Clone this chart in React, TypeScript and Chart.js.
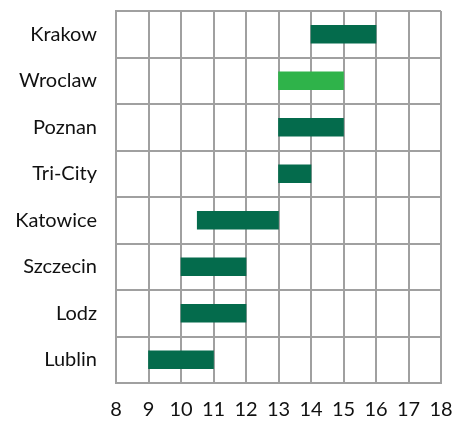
import React, { useEffect, useRef } from "react";
import { Chart, registerables } from "chart.js";

Chart.register(...registerables);

const cities = ["Krakow", "Wroclaw", "Poznan", "Tri-City", "Katowice", "Szczecin", "Lodz", "Lublin"];
const startHours = [14, 13, 13, 13, 10.5, 10, 10, 9];
const endHours = [16, 15, 15, 14, 13, 12, 12, 11];
const barColors = ["#046b4c", "#2fb34a", "#046b4c", "#046b4c", "#046b4c", "#046b4c", "#046b4c", "#046b4c"];
const xMin = 8;
const xMax = 18;

export default function App() {
  const ref = useRef<HTMLCanvasElement | null>(null);
  useEffect(() => {
    if (!ref.current) return;
    const font = { family: "Lato, 'Open Sans', sans-serif", size: 20 };
    const grid = "#a0a0a0";
    const chart = new Chart(ref.current, {
      type: "bar",
      data: {
        labels: cities,
        datasets: [
          {
            data: cities.map((_, i) => [startHours[i], endHours[i]]) as any,
            backgroundColor: barColors,
            borderWidth: 0,
            barThickness: 18,
          },
        ],
      },
      options: {
        indexAxis: "y",
        animation: false,
        responsive: false,
        maintainAspectRatio: false,
        layout: { padding: { top: 11, right: 13, left: 0, bottom: 0 } },
        plugins: { legend: { display: false }, tooltip: { enabled: false } },
        scales: {
          x: {
            min: xMin,
            max: xMax,
            ticks: { stepSize: 1, color: "#111", font, padding: 15 },
            grid: { color: grid, lineWidth: 2, drawTicks: false },
            border: { color: grid, width: 2 },
            afterFit: (s: any) => {
              s.height = 38;
              s.paddingLeft = 0;
              s.paddingRight = 0;
              s.paddingTop = 0;
              s.paddingBottom = 0;
            },
          },
          y: {
            ticks: { color: "#111", font, padding: 19 },
            grid: { color: grid, lineWidth: 2, drawTicks: false, offset: true },
            border: { color: grid, width: 2 },
            afterFit: (s: any) => {
              s.width = 116;
              s.paddingLeft = 0;
              s.paddingRight = 0;
              s.paddingTop = 0;
              s.paddingBottom = 0;
            },
          },
        },
      },
    });
    return () => chart.destroy();
  }, []);
  return (
    <div style={{ position: "absolute", left: 0, top: 0, width: 454, height: 421, background: "#fff" }}>
      <canvas ref={ref} width={454} height={421} style={{ width: 454, height: 421, display: "block" }} />
    </div>
  );
}
